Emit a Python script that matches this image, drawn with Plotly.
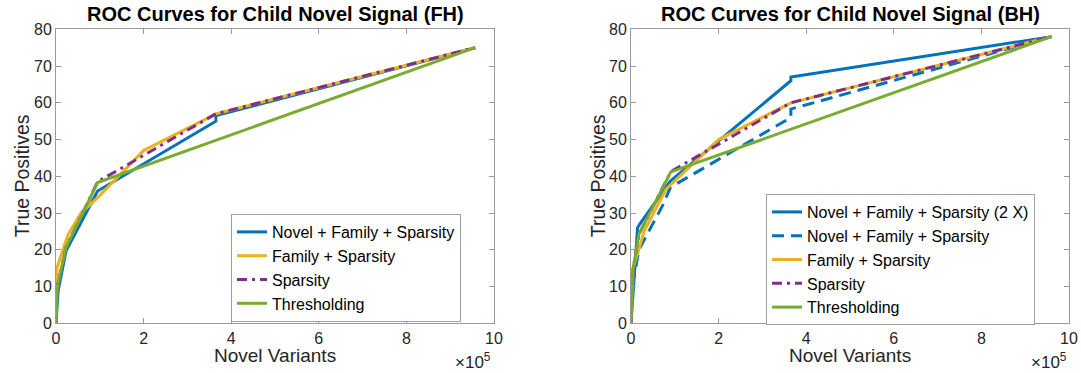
import plotly.graph_objects as go

# ---- data (x in units of 1e5 novel variants) ----
fh_blue_x = [0, 0.05, 0.23, 0.95, 3.65, 3.65, 9.57]
fh_blue_y = [0, 9, 19.7, 36, 55, 56.5, 75]
fh_orange_x = [0, 0.02, 0.27, 0.57, 0.95, 2.0, 3.65, 9.57]
fh_orange_y = [0, 15, 24, 30, 34.2, 47, 57, 75]
fh_purple_x = [0, 0.03, 0.23, 0.95, 3.65, 9.57]
fh_purple_y = [0, 10, 20.7, 38.5, 57, 75]
fh_green_x = [0, 0.03, 0.23, 0.95, 9.57]
fh_green_y = [0, 10, 20.7, 38.3, 75]

bh_blue2x_x = [0, 0.15, 0.2, 0.9, 3.65, 3.65, 9.6]
bh_blue2x_y = [0, 26, 27, 38.7, 66, 67, 78]
bh_bluedash_x = [0, 0.03, 0.18, 0.72, 0.9, 3.65, 3.65, 9.6]
bh_bluedash_y = [0, 10, 20, 32, 37, 56, 58.3, 78]
bh_orange_x = [0, 0.05, 0.3, 0.8, 2.0, 3.65, 9.6]
bh_orange_y = [0, 15, 25, 36.5, 50, 60, 78]
bh_purple_x = [0, 0.05, 0.18, 0.91, 3.65, 9.6]
bh_purple_y = [0, 15, 24.2, 41.3, 60, 78]
bh_green_x = [0, 0.05, 0.18, 0.91, 9.6]
bh_green_y = [0, 15, 24.2, 41.2, 78]

x_ticks = [0, 2, 4, 6, 8, 10]
y_ticks = [0, 10, 20, 30, 40, 50, 60, 70, 80]

BLUE = "#0072BD"
ORANGE = "#EDB120"
PURPLE = "#7E2F8E"
GREEN = "#77AC30"
FONT = "Liberation Sans, Arial, sans-serif"
DASHDOT = "10px,5px,3px,5px"

fig = go.Figure()

def add(x, y, name, color, dash, xa, ya, legend):
    fig.add_trace(go.Scatter(x=x, y=y, name=name, mode="lines",
                             line=dict(color=color, width=3, dash=dash),
                             xaxis=xa, yaxis=ya, legend=legend))

add(fh_blue_x, fh_blue_y, "Novel + Family + Sparsity", BLUE, "solid", "x", "y", "legend")
add(fh_orange_x, fh_orange_y, "Family + Sparsity", ORANGE, "solid", "x", "y", "legend")
add(fh_purple_x, fh_purple_y, "Sparsity", PURPLE, DASHDOT, "x", "y", "legend")
add(fh_green_x, fh_green_y, "Thresholding", GREEN, "solid", "x", "y", "legend")

add(bh_blue2x_x, bh_blue2x_y, "Novel + Family + Sparsity (2 X)", BLUE, "solid", "x2", "y2", "legend2")
add(bh_bluedash_x, bh_bluedash_y, "Novel + Family + Sparsity", BLUE, "12px,7px", "x2", "y2", "legend2")
add(bh_orange_x, bh_orange_y, "Family + Sparsity", ORANGE, "solid", "x2", "y2", "legend2")
add(bh_purple_x, bh_purple_y, "Sparsity", PURPLE, DASHDOT, "x2", "y2", "legend2")
add(bh_green_x, bh_green_y, "Thresholding", GREEN, "solid", "x2", "y2", "legend2")

ydom = [1 - 323.3 / 373, 1 - 29.3 / 373]
axcommon = dict(showline=True, linecolor="#9a9a9a", linewidth=1, mirror="ticks",
                ticks="inside", ticklen=5, tickcolor="#9a9a9a", showgrid=False,
                zeroline=False, automargin=False,
                tickfont=dict(family=FONT, size=16, color="#262626"))

fig.update_layout(
    width=1081, height=373,
    margin=dict(l=0, r=0, t=0, b=0, autoexpand=False),
    paper_bgcolor="white", plot_bgcolor="white",
    font=dict(family=FONT, color="#262626"),
    xaxis=dict(domain=[56 / 1081, 494 / 1081], range=[0, 10], tickvals=x_ticks, anchor="y", **axcommon),
    yaxis=dict(domain=ydom, range=[0, 80], tickvals=y_ticks, anchor="x", **axcommon),
    xaxis2=dict(domain=[631 / 1081, 1069 / 1081], range=[0, 10], tickvals=x_ticks, anchor="y2", **axcommon),
    yaxis2=dict(domain=ydom, range=[0, 80], tickvals=y_ticks, anchor="x2", **axcommon),
    legend=dict(x=231 / 1081, y=1 - 214 / 373, xanchor="left", yanchor="top",
                bordercolor="#a0a0a0", borderwidth=1, bgcolor="white",
                font=dict(family=FONT, size=16, color="#000000"),
                tracegroupgap=0, itemwidth=30),
    legend2=dict(x=766 / 1081, y=1 - 194 / 373, xanchor="left", yanchor="top",
                 bordercolor="#a0a0a0", borderwidth=1, bgcolor="white",
                 font=dict(family=FONT, size=16, color="#000000"),
                 tracegroupgap=0, itemwidth=30),
)

ann = []
for cx, title in [(275 / 1081, "ROC Curves for Child Novel Signal (FH)"),
                  (850 / 1081, "ROC Curves for Child Novel Signal (BH)")]:
    ann.append(dict(x=cx, y=1 - 14 / 373, xref="paper", yref="paper", text="<b>" + title + "</b>",
                    showarrow=False, font=dict(family=FONT, size=20, color="#000000"),
                    xanchor="center", yanchor="middle"))
for cx in [275 / 1081, 850 / 1081]:
    ann.append(dict(x=cx, y=1 - 355 / 373, xref="paper", yref="paper", text="Novel Variants",
                    showarrow=False, font=dict(family=FONT, size=19, color="#262626"),
                    xanchor="center", yanchor="middle"))
for px in [22, 598]:
    ann.append(dict(x=px / 1081, y=(ydom[0] + ydom[1]) / 2, xref="paper", yref="paper",
                    text="True Positives", textangle=-90, showarrow=False,
                    font=dict(family=FONT, size=19.5, color="#262626"),
                    xanchor="center", yanchor="middle"))
for px in [473, 1049]:
    ann.append(dict(x=px / 1081, y=1 - 361 / 373, xref="paper", yref="paper",
                    text="×10<sup>5</sup>", showarrow=False,
                    font=dict(family=FONT, size=17, color="#262626"),
                    xanchor="center", yanchor="middle"))
fig.update_layout(annotations=ann)

fig.write_html("out.html", config={"displayModeBar": False},
               post_script="document.body.style.margin='0';document.body.style.padding='0';")
